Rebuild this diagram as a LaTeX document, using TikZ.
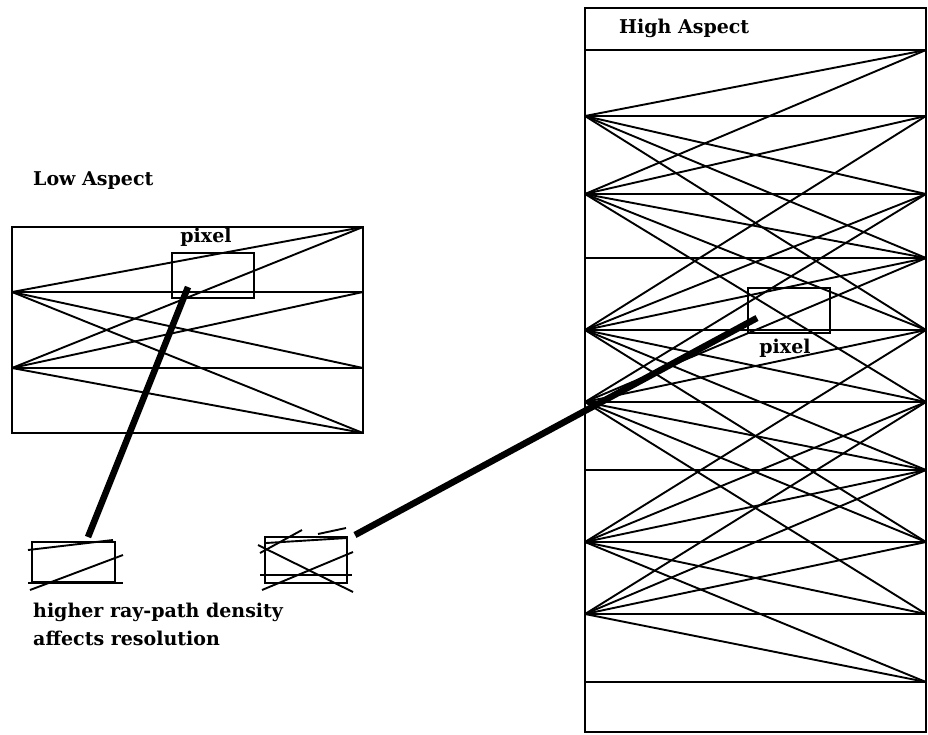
\documentclass[tikz,border=0pt]{standalone}
\usepackage{fontspec}
\setmainfont{DejaVu Serif}

\begin{document}
\begin{tikzpicture}
  [x=1pt, y=-1pt,
   frame/.style={draw, line width=2pt},
   ray/.style={line width=1.9pt},
   cell/.style={draw, line width=1.4pt, inner sep=0pt},
   beam/.style={line width=6.5pt},
   lbl/.style={font=\bfseries\fontsize{19}{22}\selectfont, inner sep=0pt, anchor=west}]
  \useasboundingbox (0,0) rectangle (928,734);

  % low aspect panel
  \node[lbl] (lowtitle) at (33,181) {Low Aspect};
  \draw[frame] (12,227) rectangle (363,433);
  \foreach \y in {227,292,368,433} \coordinate (lr\y) at (363,\y);
  \foreach \y in {292,368} {
    \coordinate (ls\y) at (12,\y);
    \foreach \r in {227,292,368,433} \draw[ray] (ls\y) -- (lr\r);
  }
  \node[cell, minimum width=82pt, minimum height=45pt] (lowpix) at (213,275.5) {};
  \node[lbl, anchor=center] (lowpixlbl) at (206,237) {pixel};

  % high aspect panel
  \draw[frame] (585,8) rectangle (926,732);
  \node[lbl] (hightitle) at (619,28) {High Aspect};
  \foreach \y in {50,116,194,258,330,402,470,542,614,682} {
    \coordinate (hl\y) at (585,\y);
    \coordinate (hr\y) at (926,\y);
    \draw[ray] (hl\y) -- (hr\y);
  }
  \foreach \s/\rs in {116/{50,194,258,330}, 194/{50,116,258,330,402},
                      330/{116,194,258,402,470,542}, 402/{194,258,330,470,542,614},
                      542/{330,402,470,614,682}, 614/{402,470,542,682}}
    \foreach \r in \rs \draw[ray] (hl\s) -- (hr\r);
  \node[cell, minimum width=82pt, minimum height=45pt] (highpix) at (789,310.5) {};
  \node[lbl, anchor=center] (highpixlbl) at (785,348) {pixel};

  % magnified pixels
  \node[cell, minimum width=83pt, minimum height=40pt] (lowzoom) at (73.5,562) {};
  \draw[ray] (28,550) -- (113,540);
  \draw[ray] (30,590) -- (123,555);
  \draw[ray] (28,583) -- (123,583);
  \node[cell, minimum width=82pt, minimum height=46pt] (highzoom) at (306,560) {};
  \draw[ray] (258,545) -- (353,592);
  \draw[ray] (262,590) -- (353,552);
  \draw[ray] (260,575) -- (352,575);
  \draw[ray] (260,553) -- (302,530);
  \draw[ray] (266,543) -- (347,538);
  \draw[ray] (318,534) -- (346,528);

  \node[lbl] (note1) at (33,612) {higher ray-path density};
  \node[lbl] (note2) at (33,638) {affects resolution};

  % links to the pixels
  \coordinate (lowbeamstart) at (88,537);
  \coordinate (lowbeamend) at (188,287);
  \coordinate (highbeamstart) at (355,535);
  \coordinate (highbeamend) at (757,318);
  \draw[beam] (lowbeamstart) -- (lowbeamend);
  \draw[beam] (highbeamstart) -- (highbeamend);
\end{tikzpicture}
\end{document}
